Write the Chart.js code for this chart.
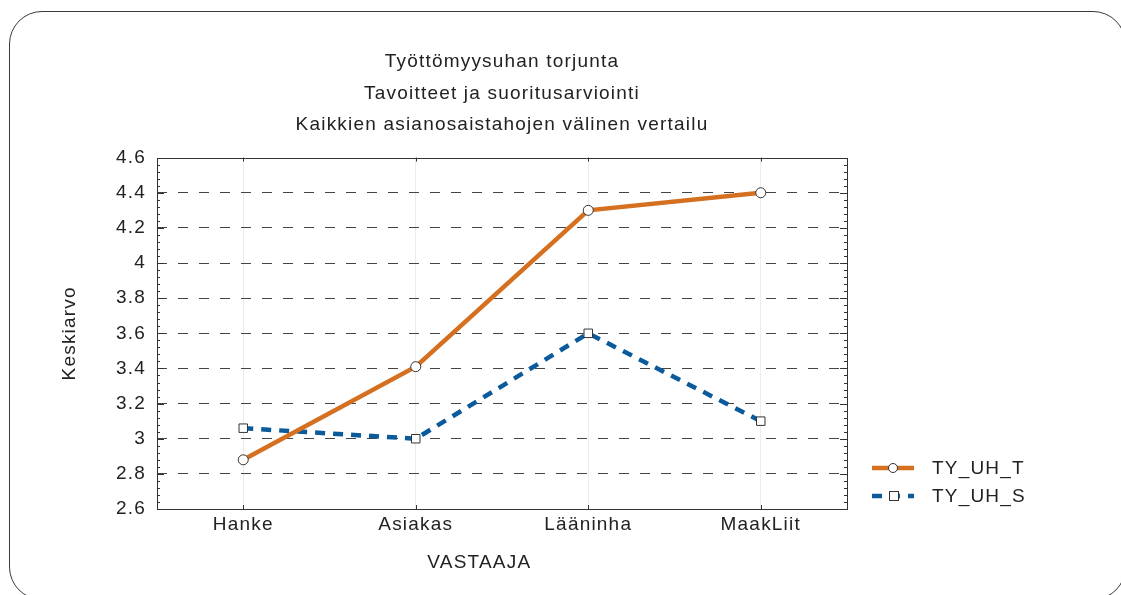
<!DOCTYPE html>
<html>
<head>
<meta charset="utf-8">
<script src="https://cdn.jsdelivr.net/npm/chart.js@4"></script>
<style>
  html, body { margin: 0; padding: 0; background: #fff; }
  #wrap { position: relative; width: 1121px; height: 595px; overflow: hidden; }
  #frame { position: absolute; left: 9px; top: 11px; width: 1117px; height: 589px;
           border: 1px solid #3a3a3a; border-radius: 33px; box-sizing: border-box; }
  canvas { position: absolute; left: 0; top: 0; }
</style>
</head>
<body>
<div id="wrap">
  <div id="frame"></div>
  <canvas id="c" width="1121" height="595"></canvas>
</div>
<script>
const categories = ['Hanke', 'Asiakas', 'Lääninha', 'MaakLiit'];
const seriesNames = ['TY_UH_T', 'TY_UH_S'];
const valuesT = [2.88, 3.41, 4.30, 4.40];
const valuesS = [3.06, 3.00, 3.60, 3.10];
const titleLines = ['Työttömyysuhan torjunta', 'Tavoitteet ja suoritusarviointi', 'Kaikkien asianosaistahojen välinen vertailu'];
const yMin = 2.6, yMax = 4.6, yStep = 0.2;
const xTitle = 'VASTAAJA';
const yTitle = 'Keskiarvo';

const FONT = '"Liberation Sans", Arial, Helvetica, sans-serif';
const TXT = '#222';
const SPACING = '1.2px';
const FS = 19;

const spacingPlugin = {
  id: 'spacing',
  beforeInit(chart) { chart.ctx.letterSpacing = SPACING; },
  beforeUpdate(chart) { chart.ctx.letterSpacing = SPACING; },
  beforeLayout(chart) { chart.ctx.letterSpacing = SPACING; },
  beforeDraw(chart) { chart.ctx.letterSpacing = SPACING; }
};

const framePlugin = {
  id: 'framePlugin',
  afterDatasetsDraw(chart) {
    const {ctx, chartArea: a, scales} = chart;
    const y = scales.y, x = scales.x;
    ctx.save();
    ctx.strokeStyle = '#333';
    ctx.lineWidth = 1;
    ctx.beginPath();
    const minor = yStep / 5;
    for (let i = 0; i <= Math.round((yMax - yMin) / minor); i++) {
      const v = yMin + i * minor;
      const py = Math.round(y.getPixelForValue(v)) + 0.5;
      const isMajor = i % 5 === 0;
      const len = isMajor ? 7 : 3;
      ctx.moveTo(a.left, py); ctx.lineTo(a.left + len, py);
      ctx.moveTo(a.right, py); ctx.lineTo(a.right - len, py);
    }
    categories.forEach((c, i) => {
      const px = Math.round(x.getPixelForValue(i)) + 0.5;
      ctx.moveTo(px, a.top); ctx.lineTo(px, a.top + 4);
      ctx.moveTo(px, a.bottom); ctx.lineTo(px, a.bottom - 4);
    });
    ctx.stroke();
    ctx.strokeRect(Math.round(a.left) + 0.5, Math.round(a.top) + 0.5,
                   Math.round(a.right - a.left), Math.round(a.bottom - a.top));
    ctx.restore();
  }
};

const legendPlugin = {
  id: 'customLegend',
  afterDraw(chart) {
    const {ctx} = chart;
    const rows = [468, 496];
    chart.data.datasets.forEach((ds, i) => {
      const yy = rows[i];
      ctx.save();
      ctx.strokeStyle = ds.borderColor;
      ctx.lineWidth = ds.borderWidth;
      ctx.setLineDash(ds.borderDash || []);
      ctx.beginPath();
      ctx.moveTo(872, yy); ctx.lineTo(914, yy);
      ctx.stroke();
      ctx.setLineDash([]);
      ctx.fillStyle = '#fff';
      ctx.strokeStyle = ds.pointBorderColor;
      ctx.lineWidth = 1;
      if (ds.pointStyle === 'rect') {
        ctx.fillRect(889, yy - 4.5, 9, 9);
        ctx.strokeRect(889.5, yy - 4.5, 9, 9);
      } else {
        ctx.beginPath();
        ctx.arc(893, yy, 4.5, 0, Math.PI * 2);
        ctx.fill(); ctx.stroke();
      }
      ctx.fillStyle = TXT;
      ctx.font = FS + 'px ' + FONT;
      ctx.letterSpacing = SPACING;
      ctx.textBaseline = 'middle';
      ctx.textAlign = 'left';
      ctx.fillText(ds.label, 932, yy + 1);
      ctx.restore();
    });
  }
};

new Chart(document.getElementById('c'), {
  type: 'line',
  data: {
    labels: categories,
    datasets: [
      {
        label: seriesNames[0],
        data: valuesT,
        borderColor: '#D4701F',
        borderWidth: 4.5,
        pointStyle: 'circle',
        pointRadius: 5,
        pointHoverRadius: 5,
        pointBackgroundColor: '#fff',
        pointBorderColor: '#333',
        pointBorderWidth: 1,
        tension: 0
      },
      {
        label: seriesNames[1],
        data: valuesS,
        borderColor: '#0A5A9C',
        borderWidth: 4.5,
        borderDash: [10, 8],
        pointStyle: 'rect',
        pointRadius: 6,
        pointHoverRadius: 6,
        pointBackgroundColor: '#fff',
        pointBorderColor: '#333',
        pointBorderWidth: 1,
        tension: 0
      }
    ]
  },
  options: {
    responsive: false,
    animation: false,
    events: [],
    layout: { padding: { left: 0, right: 274, top: 0, bottom: 0 } },
    plugins: {
      legend: { display: false },
      tooltip: { enabled: false },
      title: {
        display: true,
        fullSize: false,
        text: titleLines,
        color: TXT,
        font: { family: FONT, size: FS, weight: 'normal', lineHeight: 1.66 },
        padding: { top: 46, bottom: 17 }
      }
    },
    scales: {
      x: {
        type: 'category',
        offset: true,
        grid: { display: true, color: '#ececec', drawTicks: false, offset: false },
        border: { display: false },
        ticks: { color: TXT, font: { family: FONT, size: FS }, padding: 4 },
        title: {
          display: true,
          text: xTitle + '\u00a0'.repeat(7),
          color: TXT,
          font: { family: FONT, size: FS },
          padding: { top: 0, bottom: 21 }
        },
        afterFit: (s) => { s.height = 86; }
      },
      y: {
        min: yMin,
        max: yMax,
        ticks: {
          stepSize: yStep,
          color: TXT,
          font: { family: FONT, size: FS },
          padding: 11,
          callback: (v) => String(Math.round(v * 10) / 10)
        },
        grid: {
          color: (c) => (c.tick && (Math.abs(c.tick.value - yMax) < 1e-6 || Math.abs(c.tick.value - yMin) < 1e-6)) ? 'rgba(0,0,0,0)' : '#444',
          lineWidth: 1,
          drawTicks: false
        },
        border: { display: false, dash: [10, 11] },
        title: {
          display: true,
          text: yTitle,
          color: TXT,
          font: { family: FONT, size: FS },
          padding: { top: 58, bottom: 0 }
        },
        afterFit: (s) => { s.width = 157; }
      }
    }
  },
  plugins: [spacingPlugin, framePlugin, legendPlugin]
});
</script>
</body>
</html>
